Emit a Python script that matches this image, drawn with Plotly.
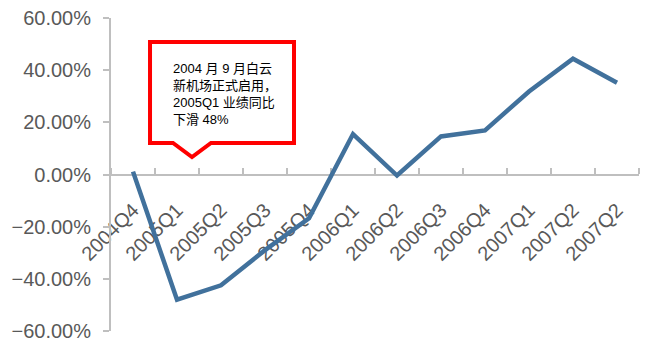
import plotly.graph_objects as go

# Quarterly year-on-year change
quarters = ["2004Q4", "2005Q1", "2005Q2", "2005Q3", "2005Q4", "2006Q1",
            "2006Q2", "2006Q3", "2006Q4", "2007Q1", "2007Q2", "2007Q2"]
yoy_change = [0.011, -0.48, -0.425, -0.29, -0.168, 0.155,
              -0.004, 0.146, 0.169, 0.318, 0.444, 0.352]
y_ticks = [-0.6, -0.4, -0.2, 0.0, 0.2, 0.4, 0.6]

positions = list(range(len(quarters)))
axis_grey = "#BFBFBF"
label_grey = "#595959"

fig = go.Figure()
fig.add_trace(go.Scatter(
    x=positions, y=yoy_change, mode="lines",
    line=dict(color="#41719C", width=4.5),
    hoverinfo="skip", showlegend=False,
))

fig.update_layout(
    width=649, height=342,
    margin=dict(l=111, r=10, t=18, b=11),
    paper_bgcolor="white", plot_bgcolor="white",
    font=dict(family="Liberation Sans, Arial, sans-serif", color=label_grey),
    xaxis=dict(
        range=[-0.5, len(quarters) - 0.5],
        anchor="free", position=0.5, automargin=False,
        layer="below traces",
        tickmode="array", tickvals=positions, ticktext=quarters,
        tickangle=-45, ticks="", ticklabelstandoff=15,
        tickfont=dict(size=20, color=label_grey),
        showline=True, linecolor=axis_grey, linewidth=2,
        showgrid=False, zeroline=False,
        minor=dict(tick0=-0.5, dtick=1, ticks="inside", ticklen=6,
                   tickcolor=axis_grey, tickwidth=1.5, showgrid=False),
    ),
    yaxis=dict(
        range=[-0.6, 0.6], automargin=False,
        tickmode="array", tickvals=y_ticks, tickformat=".2%",
        ticks="outside", ticklen=6, tickcolor=axis_grey, tickwidth=1.5,
        ticklabelstandoff=8,
        tickfont=dict(size=20, color=label_grey),
        showline=True, linecolor=axis_grey, linewidth=2,
        showgrid=False, zeroline=False,
    ),
)

# Callout box with a downward pointer
x_l, x_r = 0.0739, 0.3466
y_t, y_b = 0.9233, 0.6006
n_l, n_tip, n_r, y_tip = 0.1174, 0.1534, 0.1894, 0.5559
callout_path = (f"M {x_l},{y_t} L {x_r},{y_t} L {x_r},{y_b} L {n_r},{y_b} "
                f"L {n_tip},{y_tip} L {n_l},{y_b} L {x_l},{y_b} Z")
fig.add_shape(type="path", xref="paper", yref="paper", path=callout_path,
              line=dict(color="#FF0000", width=4), fillcolor="white",
              layer="above")

fig.add_annotation(
    xref="paper", yref="paper", x=0.1136, y=0.868,
    xanchor="left", yanchor="top", align="left", showarrow=False,
    text="2004 月 9 月白云<br>新机场正式启用，<br>2005Q1 业绩同比<br>下滑 48%",
    font=dict(family="Liberation Sans, Noto Sans CJK SC, sans-serif",
              size=13, color="#000000"),
)

fig.write_html("out.html")
